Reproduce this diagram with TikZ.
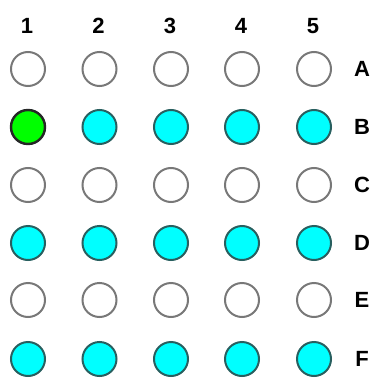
\documentclass[tikz,border=0pt]{standalone}
\usepackage{fontspec}
\setmainfont{Liberation Sans}
\definecolor{wellcyan}{RGB}{0,255,255}
\definecolor{wellcyanline}{RGB}{40,95,95}
\definecolor{wellgreen}{RGB}{0,255,0}
\definecolor{wellgray}{RGB}{120,120,120}
\begin{document}
\begin{tikzpicture}[x=1pt,y=-1pt,
  well/.style={circle,minimum size=34pt,inner sep=0pt,line width=2pt},
  empty/.style={well,draw=wellgray,fill=white},
  cyanwell/.style={well,draw=wellcyanline,fill=wellcyan},
  greenwell/.style={well,draw=black!85,fill=wellgreen,line width=2.4pt},
  lab/.style={font=\bfseries\fontsize{22}{24}\selectfont,inner sep=0pt}]
\useasboundingbox (0,0) rectangle (376,380);
\foreach \c/\x in {1/27,2/98.5,3/170,4/241,5/313}{
  \node[lab] (n\c) at (\x,26) {\c};
}
\foreach \r/\y/\s in {A/69/empty,B/127/cyanwell,C/185/empty,D/243/cyanwell,E/300/empty,F/359/cyanwell}{
  \node[lab] (l\r) at (362,\y) {\r};
  \foreach \c/\x in {1/28,2/99.5,3/171,4/242,5/314}{
    \node[\s] (w\r\c) at (\x,\y) {};
  }
}
\node[greenwell] (wB1g) at (28,127) {};
\end{tikzpicture}
\end{document}
